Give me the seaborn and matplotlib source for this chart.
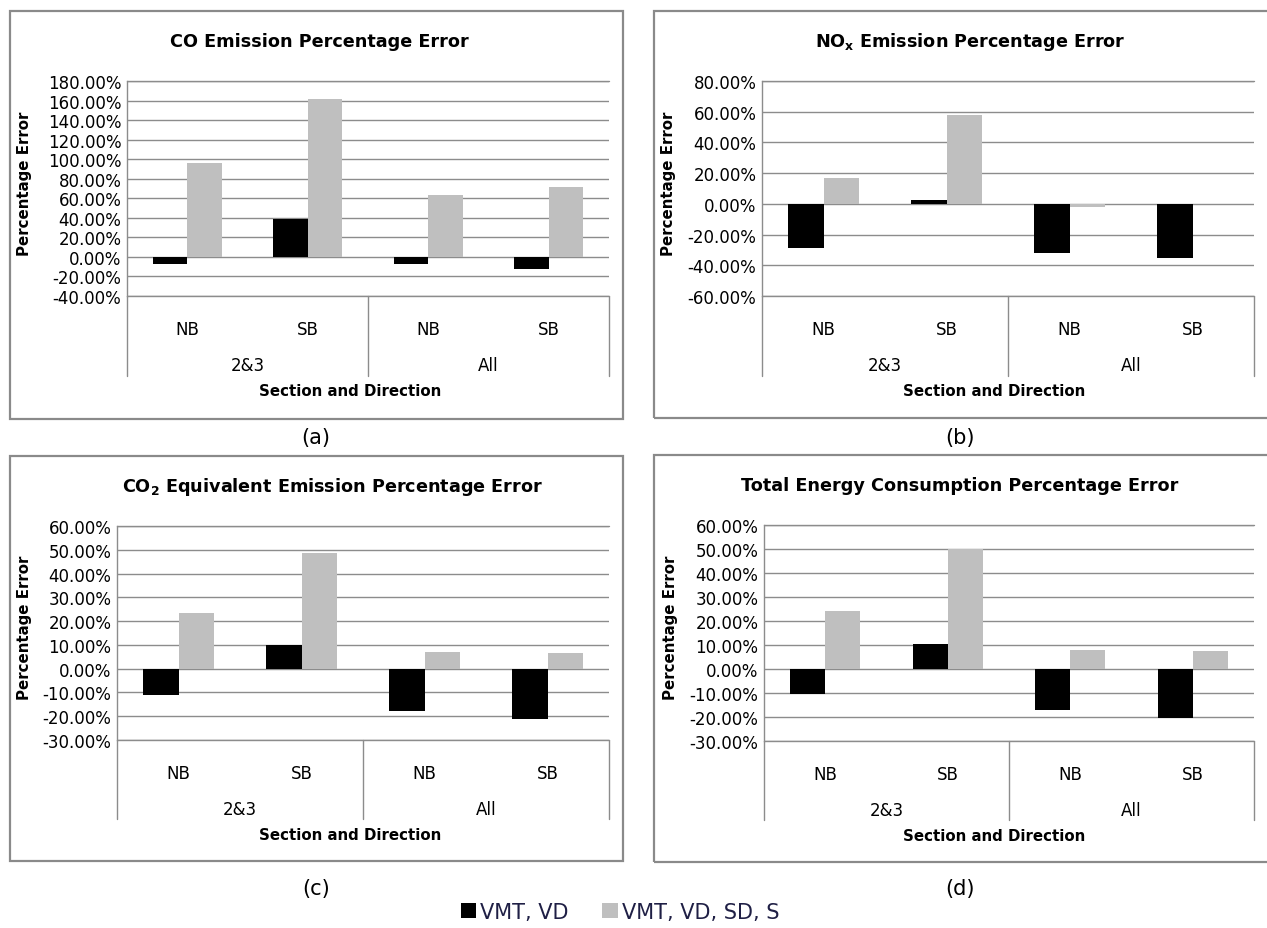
import matplotlib
matplotlib.use("Agg")
import matplotlib.pyplot as plt
import matplotlib.transforms as mtransforms
from matplotlib.patches import Rectangle
from matplotlib.ticker import FuncFormatter, MultipleLocator
import seaborn as sns
import pandas as pd

# ---------------- data ----------------
sections = ["2&3", "2&3", "All", "All"]
directions = ["NB", "SB", "NB", "SB"]
series_names = ["VMT, VD", "VMT, VD, SD, S"]

co_vmt_vd = [-7.5, 38.4, -7.5, -11.9]
co_full = [96.1, 161.3, 63.5, 71.3]

nox_vmt_vd = [-28.9, 2.8, -32.1, -35.4]
nox_full = [17.0, 58.0, -1.9, 0.0]

co2_vmt_vd = [-11.0, 9.8, -17.6, -21.1]
co2_full = [23.3, 48.7, 7.2, 6.6]

energy_vmt_vd = [-10.3, 10.6, -17.0, -20.5]
energy_full = [24.3, 49.9, 7.8, 7.4]

titles = ["CO Emission Percentage Error",
          r"NO$_\mathbf{x}$ Emission Percentage Error",
          r"CO$_\mathbf{2}$ Equivalent Emission Percentage Error",
          "Total Energy Consumption Percentage Error"]
panel_tags = ["(a)", "(b)", "(c)", "(d)"]
ylims = [(-40, 180), (-60, 80), (-30, 60), (-30, 60)]
ysteps = [20, 20, 10, 10]
ylabel = "Percentage Error"
xlabel = "Section and Direction"

# ---------------- style ----------------
sns.set_theme(style="white")
plt.rcParams["font.family"] = ["DejaVu Sans"]
plt.rcParams["mathtext.fontset"] = "dejavusans"

W, H = 1267, 929
fig = plt.figure(figsize=(W / 100, H / 100), dpi=100)
fig.patch.set_facecolor("white")

palette = {series_names[0]: "#000000", series_names[1]: "#bfbfbf"}
grid_col = "#8c8c8c"
TICK_FS = 12
AXT_FS = 10.8
TITLE_FS = 12.7

# layout in pixels: (box l, t, r, b), (axes l, t, r, b), title x, ylabel x, xlabel x, tag (x, y)
layouts = [
    ((10, 12, 623, 420), (127, 82, 609, 297), 319, 25, 350, (316, 438)),
    ((654, 12, 1275, 419), (762, 82, 1254, 297), 970, 668, 994, (960, 438)),
    ((10, 457, 623, 862), (117, 527, 609, 741), 332, 25, 350, (316, 889)),
    ((654, 456, 1275, 863), (764, 526, 1254, 742), 960, 670, 994, (960, 889)),
]

all_vals = [(co_vmt_vd, co_full), (nox_vmt_vd, nox_full),
            (co2_vmt_vd, co2_full), (energy_vmt_vd, energy_full)]

handles = labels = None
for i, (v1, v2) in enumerate(all_vals):
    box, axp, tx, ylx, xlx, tag = layouts[i]
    # panel frame
    fig.patches.append(Rectangle((box[0] / W, 1 - box[3] / H), (box[2] - box[0]) / W,
                                 (box[3] - box[1]) / H, transform=fig.transFigure,
                                 fill=False, edgecolor="#8a8a8a", linewidth=1.6))
    l, t, r, b = axp
    ax = fig.add_axes([l / W, 1 - b / H, (r - l) / W, (b - t) / H])
    ah = b - t
    cats = [f"{s} {d}" for s, d in zip(sections, directions)]
    df = pd.DataFrame({
        "cat": cats * 2,
        "series": [series_names[0]] * 4 + [series_names[1]] * 4,
        "value": list(v1) + list(v2),
    })
    sns.barplot(data=df, x="cat", y="value", hue="series", order=cats,
                hue_order=series_names, palette=palette, width=0.57,
                saturation=1, ax=ax, errorbar=None, legend=True, linewidth=0)
    if i == 0:
        handles, labels = ax.get_legend_handles_labels()
    if ax.get_legend() is not None:
        ax.get_legend().remove()

    lo, hi = ylims[i]
    ax.set_ylim(lo, hi)
    ax.set_xlim(-0.5, 3.5)
    ax.yaxis.set_major_locator(MultipleLocator(ysteps[i]))
    ax.yaxis.set_major_formatter(FuncFormatter(lambda v, p: f"{v:.2f}%"))
    ax.grid(axis="y", color=grid_col, linewidth=1.0)
    ax.set_axisbelow(True)
    ax.axhline(lo, color=grid_col, linewidth=1.0, clip_on=False, zorder=0.5)
    ax.axhline(hi, color=grid_col, linewidth=1.0, clip_on=False, zorder=0.5)
    for s in ["top", "right", "bottom"]:
        ax.spines[s].set_visible(False)
    ax.spines["left"].set_color(grid_col)
    ax.spines["left"].set_linewidth(1.0)
    ax.tick_params(axis="y", length=0, pad=4, labelsize=TICK_FS, labelcolor="#000000")
    ax.tick_params(axis="x", length=0, pad=17, labelsize=TICK_FS, labelcolor="#000000")
    ax.set_xticks(range(4))
    ax.set_xticklabels(directions)
    ax.set_xlabel("")
    ax.set_ylabel("")

    trans = mtransforms.blended_transform_factory(ax.transData, ax.transAxes)
    bottom_frac = -(377 - 297) / ah if i < 2 else -(820 - 741) / ah
    for xd in [-0.5, 1.5, 3.5]:
        ax.plot([xd, xd], [0, bottom_frac], transform=trans, color=grid_col,
                linewidth=1.0, clip_on=False)
    grp_y = -(366 - 297) / ah
    ax.text(0.5, grp_y, sections[0], transform=trans, ha="center", va="center",
            fontsize=TICK_FS, color="#000000")
    ax.text(2.5, grp_y, sections[2], transform=trans, ha="center", va="center",
            fontsize=TICK_FS, color="#000000")

    # title, axis labels, tag
    fig.text(tx / W, 1 - (t - 40) / H, titles[i], ha="center", va="center",
             fontsize=TITLE_FS, fontweight="bold", color="#000000")
    fig.text(ylx / W, 1 - ((t + b) / 2 - 6) / H, ylabel, rotation=90, ha="center",
             va="center", fontsize=AXT_FS, fontweight="bold", color="#000000")
    fig.text(xlx / W, 1 - (b + 95) / H, xlabel, ha="center", va="center",
             fontsize=AXT_FS, fontweight="bold", color="#000000")
    fig.text(tag[0] / W, 1 - tag[1] / H, panel_tags[i], ha="center", va="center",
             fontsize=15, color="#000000")

leg = fig.legend(handles, labels, loc="center", bbox_to_anchor=(620 / W, 1 - 913 / H),
                 ncol=2, frameon=False, handlelength=0.75, handleheight=0.75,
                 handletextpad=0.2, columnspacing=1.6,
                 prop={"family": "DejaVu Sans", "size": 15})
for txt in leg.get_texts():
    txt.set_color("#1f1f45")

fig.savefig("out.png", dpi=100, facecolor="white")
